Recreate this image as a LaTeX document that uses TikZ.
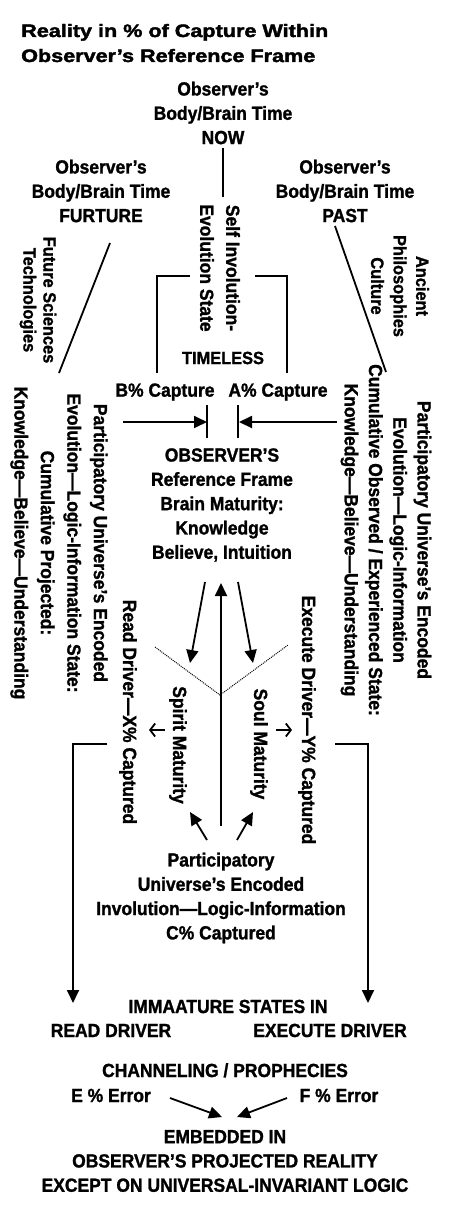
\documentclass[tikz,border=0pt]{standalone}
\usepackage{fontspec}
\setmainfont{Liberation Sans}[FakeStretch=0.92, BoldFeatures={FakeBold=1.3}]
\newfontfamily\titlefont{Liberation Sans}[FakeStretch=1.2, BoldFeatures={FakeBold=2.2}]
\usetikzlibrary{arrows.meta}
\begin{document}
\begin{tikzpicture}[x=1pt,y=-1pt,
  txt/.style={font=\bfseries\fontsize{19}{24.3}\selectfont, align=center, inner sep=0pt},
  vtxt/.style={txt, rotate=-90},
  smalltxt/.style={font=\bfseries\fontsize{17.8}{21}\selectfont, align=center, inner sep=0pt},
  vsmall/.style={smalltxt, rotate=-90},
  ttl/.style={font=\titlefont\bfseries\fontsize{18}{25}\selectfont, align=left, inner sep=0pt},
  ln/.style={line width=1.8pt},
  arr/.style={ln, -{Triangle[length=13pt,width=12pt]}},
  dots/.style={line width=1pt, densely dotted},
  small arr/.style={line width=1.8pt, -{Straight Barb[length=5pt,width=13pt]}},
]
\fill[white] (0,0) rectangle (450,1217);
\useasboundingbox (0,0) rectangle (450,1217);

% title
\node[ttl, anchor=base west] (title) at (21,62) {Reality in \% of Capture Within\\Observer’s Reference Frame};

% time nodes
\node[txt] (now) at (223,113) {Observer’s\\Body/Brain Time\\NOW};
\node[txt] (future) at (101,191) {Observer’s\\Body/Brain Time\\FURTURE};
\node[txt] (past) at (345,191) {Observer’s\\Body/Brain Time\\PAST};

\node[vtxt, font=\bfseries\fontsize{19}{26}\selectfont] (self) at (220,268) {Self Involution-\\Evolution State};
\node[vsmall, font=\bfseries\fontsize{17.8}{20}\selectfont] (fsci) at (38,300) {Future Sciences\\Technologies};
\node[vsmall, font=\bfseries\fontsize{17.8}{22.5}\selectfont] (anc) at (400,286) {Ancient\\Philosophies\\Culture};
\node[smalltxt] (timeless) at (223,358) {TIMELESS};

\node[txt] (bcap) at (165,392) {B\% Capture};
\node[txt] (acap) at (278,392) {A\% Capture};

\node[txt] (obs) at (222,505) {OBSERVER’S\\Reference Frame\\Brain Maturity:\\Knowledge\\Believe, Intuition};

\node[vtxt, font=\bfseries\fontsize{19}{26.5}\selectfont] (lstate) at (59,543) {Participatory Universe’s Encoded\\Evolution—Logic-Information State:\\Cumulative Projected:\\Knowledge—Believe—Understanding};
\node[vtxt] (rstate) at (386,540) {Participatory Universe’s Encoded\\Evolution—Logic-Information\\Cumulative Observed / Experienced State:\\Knowledge—Believe—Understanding};

\node[vtxt] (read) at (128,712) {Read Driver—X\% Captured};
\node[vtxt] (spirit) at (178,745) {Spirit Maturity};
\node[vtxt] (soul) at (259,744) {Soul Maturity};
\node[vtxt] (exec) at (307,720) {Execute Driver—Y\% Captured};

\node[txt] (part) at (221,898) {Participatory\\Universe’s Encoded\\Involution—Logic-Information\\C\% Captured};

\node[txt, anchor=base] (imm) at (228,1013) {IMMAATURE STATES IN};
\node[txt, anchor=base] (readd) at (111,1037) {READ DRIVER};
\node[txt, anchor=base] (execd) at (330,1037) {EXECUTE DRIVER};
\node[txt, anchor=base] (chan) at (225,1077) {CHANNELING / PROPHECIES};
\node[txt, anchor=base] (eerr) at (111,1102) {E \% Error};
\node[txt, anchor=base] (ferr) at (339,1102) {F \% Error};
\node[txt] (emb) at (225,1161) {EMBEDDED IN\\OBSERVER’S PROJECTED REALITY\\EXCEPT ON UNIVERSAL-INVARIANT LOGIC};

% coordinates
\coordinate (nowA) at (223,148);
\coordinate (nowB) at (223,197);
\coordinate (futA) at (110,243);
\coordinate (futB) at (59,373);
\coordinate (pastA) at (335,226);
\coordinate (pastB) at (386,372);
\coordinate (lbA) at (190,276);
\coordinate (lbC) at (157,276);
\coordinate (lbB) at (157,373);
\coordinate (rbA) at (255,276);
\coordinate (rbC) at (287,276);
\coordinate (rbB) at (287,373);
\coordinate (bsrc) at (123,422);
\coordinate (btip) at (207,422);
\coordinate (btT) at (207,405);
\coordinate (btB) at (207,438);
\coordinate (asrc) at (337,422);
\coordinate (atip) at (239,422);
\coordinate (atT) at (238,405);
\coordinate (atB) at (238,438);
\coordinate (obsL) at (205,582);
\coordinate (obsR) at (238,582);
\coordinate (obsM) at (221,583);
\coordinate (spTip) at (190,663);
\coordinate (soTip) at (253,663);
\coordinate (vL) at (155,647);
\coordinate (vM) at (220,695);
\coordinate (vR) at (288,645);
\coordinate (ptM) at (221,826);
\coordinate (ptL) at (207,840);
\coordinate (ptR) at (237,840);
\coordinate (spBot) at (190,812);
\coordinate (soBot) at (253,812);
\coordinate (rdA) at (165,730);
\coordinate (rdB) at (149,730);
\coordinate (exA) at (276,730);
\coordinate (exB) at (292,730);
\coordinate (lkA) at (107,744);
\coordinate (lkC) at (73,744);
\coordinate (lkB) at (73,1003);
\coordinate (rkA) at (335,744);
\coordinate (rkC) at (368,744);
\coordinate (rkB) at (368,1003);
\coordinate (eA) at (170,1098);
\coordinate (eB) at (222,1117);
\coordinate (fA) at (287,1098);
\coordinate (fB) at (237,1117);

% connectors
\draw[ln] (nowA) -- (nowB);
\draw[ln] (futA) -- (futB);
\draw[ln] (pastA) -- (pastB);
\draw[ln] (lbA) -- (lbC) -- (lbB);
\draw[ln] (rbA) -- (rbC) -- (rbB);
\draw[arr] (bsrc) -- (btip);
\draw[ln] (btT) -- (btB);
\draw[arr] (asrc) -- (atip);
\draw[ln] (atT) -- (atB);
\draw[arr] (obsL) -- (spTip);
\draw[arr] (obsR) -- (soTip);
\draw[arr] (ptM) -- (obsM);
\draw[dots] (vL) -- (vM) -- (vR);
\draw[arr] (ptL) -- (spBot);
\draw[arr] (ptR) -- (soBot);
\draw[small arr] (rdA) -- (rdB);
\draw[small arr] (exA) -- (exB);
\draw[arr] (lkA) -- (lkC) -- (lkB);
\draw[arr] (rkA) -- (rkC) -- (rkB);
\draw[arr] (eA) -- (eB);
\draw[arr] (fA) -- (fB);
\end{tikzpicture}
\end{document}
